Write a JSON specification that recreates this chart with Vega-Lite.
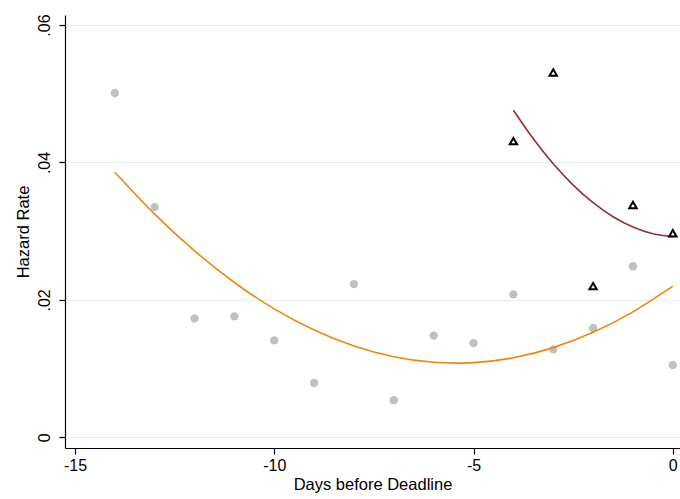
{
  "$schema": "https://vega.github.io/schema/vega-lite/v6.json",
  "width": 615,
  "height": 433,
  "autosize": "none",
  "padding": {"left": 65, "top": 15, "right": 0, "bottom": 51},
  "background": "white",
  "config": {
    "view": {"stroke": null},
    "font": "Liberation Sans",
    "axis": {
      "labelFont": "Liberation Sans",
      "titleFont": "Liberation Sans",
      "labelFontSize": 16,
      "titleFontSize": 16.5,
      "titleFontWeight": "normal",
      "labelColor": "#000000",
      "titleColor": "#000000",
      "domainColor": "#000000",
      "tickColor": "#000000",
      "tickSize": 6,
      "domainWidth": 1.2,
      "tickWidth": 1.2
    }
  },
  "datasets": {
    "dots": [
      {"day": -14, "rate": 0.0501},
      {"day": -13, "rate": 0.0335},
      {"day": -12, "rate": 0.0173},
      {"day": -11, "rate": 0.0176},
      {"day": -10, "rate": 0.0141},
      {"day": -9, "rate": 0.0079},
      {"day": -8, "rate": 0.0223},
      {"day": -7, "rate": 0.0054},
      {"day": -6, "rate": 0.0148},
      {"day": -5, "rate": 0.0137},
      {"day": -4, "rate": 0.0208},
      {"day": -3, "rate": 0.0128},
      {"day": -2, "rate": 0.0159},
      {"day": -1, "rate": 0.0249},
      {"day": 0, "rate": 0.0105}
    ],
    "tri": [
      {"day": -4, "rate": 0.0431},
      {"day": -3, "rate": 0.0531},
      {"day": -2, "rate": 0.0220},
      {"day": -1, "rate": 0.0338},
      {"day": 0, "rate": 0.0297}
    ],
    "fitAll": [
      {"day": -14, "rate": 0.03859},
      {"day": -13, "rate": 0.03248},
      {"day": -12, "rate": 0.02713},
      {"day": -11, "rate": 0.02253},
      {"day": -10, "rate": 0.01869},
      {"day": -9, "rate": 0.01561},
      {"day": -8, "rate": 0.01329},
      {"day": -7, "rate": 0.01172},
      {"day": -6, "rate": 0.01091},
      {"day": -5, "rate": 0.01087},
      {"day": -4, "rate": 0.01158},
      {"day": -3, "rate": 0.01305},
      {"day": -2, "rate": 0.01528},
      {"day": -1, "rate": 0.01826},
      {"day": 0, "rate": 0.02200}
    ],
    "fitLate": [
      {"day": -4, "rate": 0.0476},
      {"day": -3.5, "rate": 0.04344},
      {"day": -3, "rate": 0.0398},
      {"day": -2.5, "rate": 0.0367},
      {"day": -2, "rate": 0.03414},
      {"day": -1.5, "rate": 0.0321},
      {"day": -1, "rate": 0.0306},
      {"day": -0.5, "rate": 0.02963},
      {"day": 0, "rate": 0.0292}
    ]
  },
  "layer": [
    {
      "data": {"name": "dots"},
      "mark": {"type": "point", "shape": "circle", "filled": true, "color": "#c0c0c0", "opacity": 1, "size": 70},
      "encoding": {
        "x": {
          "field": "day", "type": "quantitative",
          "scale": {"domain": [-15.25, 0.18], "nice": false, "zero": false},
          "axis": {"values": [-15, -10, -5, 0], "labelExpr": "'' + datum.value", "grid": false, "title": "Days before Deadline", "labelPadding": 3, "titlePadding": 3}
        },
        "y": {
          "field": "rate", "type": "quantitative",
          "scale": {"domain": [-0.00156, 0.06146], "nice": false, "zero": false},
          "axis": {
            "values": [0, 0.02, 0.04, 0.06],
            "labelExpr": "datum.value == 0 ? '0' : replace(format(datum.value, '.2f'), '0.', '.')",
            "labelAngle": -90, "labelAlign": "center", "labelBaseline": "bottom", "labelPadding": 7,
            "grid": true, "gridColor": "#e4eef0", "gridWidth": 1,
            "title": "Hazard Rate", "titlePadding": 5
          }
        }
      }
    },
    {
      "data": {"name": "fitAll"},
      "mark": {"type": "line", "color": "#e8890c", "strokeWidth": 1.6, "interpolate": "natural"},
      "encoding": {
        "x": {"field": "day", "type": "quantitative"},
        "y": {"field": "rate", "type": "quantitative"}
      }
    },
    {
      "data": {"name": "fitLate"},
      "mark": {"type": "line", "color": "#923038", "strokeWidth": 1.6, "interpolate": "natural"},
      "encoding": {
        "x": {"field": "day", "type": "quantitative"},
        "y": {"field": "rate", "type": "quantitative"}
      }
    },
    {
      "data": {"name": "tri"},
      "mark": {"type": "point", "shape": "triangle-up", "filled": false, "stroke": "#000000", "strokeWidth": 2, "size": 55, "opacity": 1},
      "encoding": {
        "x": {"field": "day", "type": "quantitative"},
        "y": {"field": "rate", "type": "quantitative"}
      }
    }
  ]
}
